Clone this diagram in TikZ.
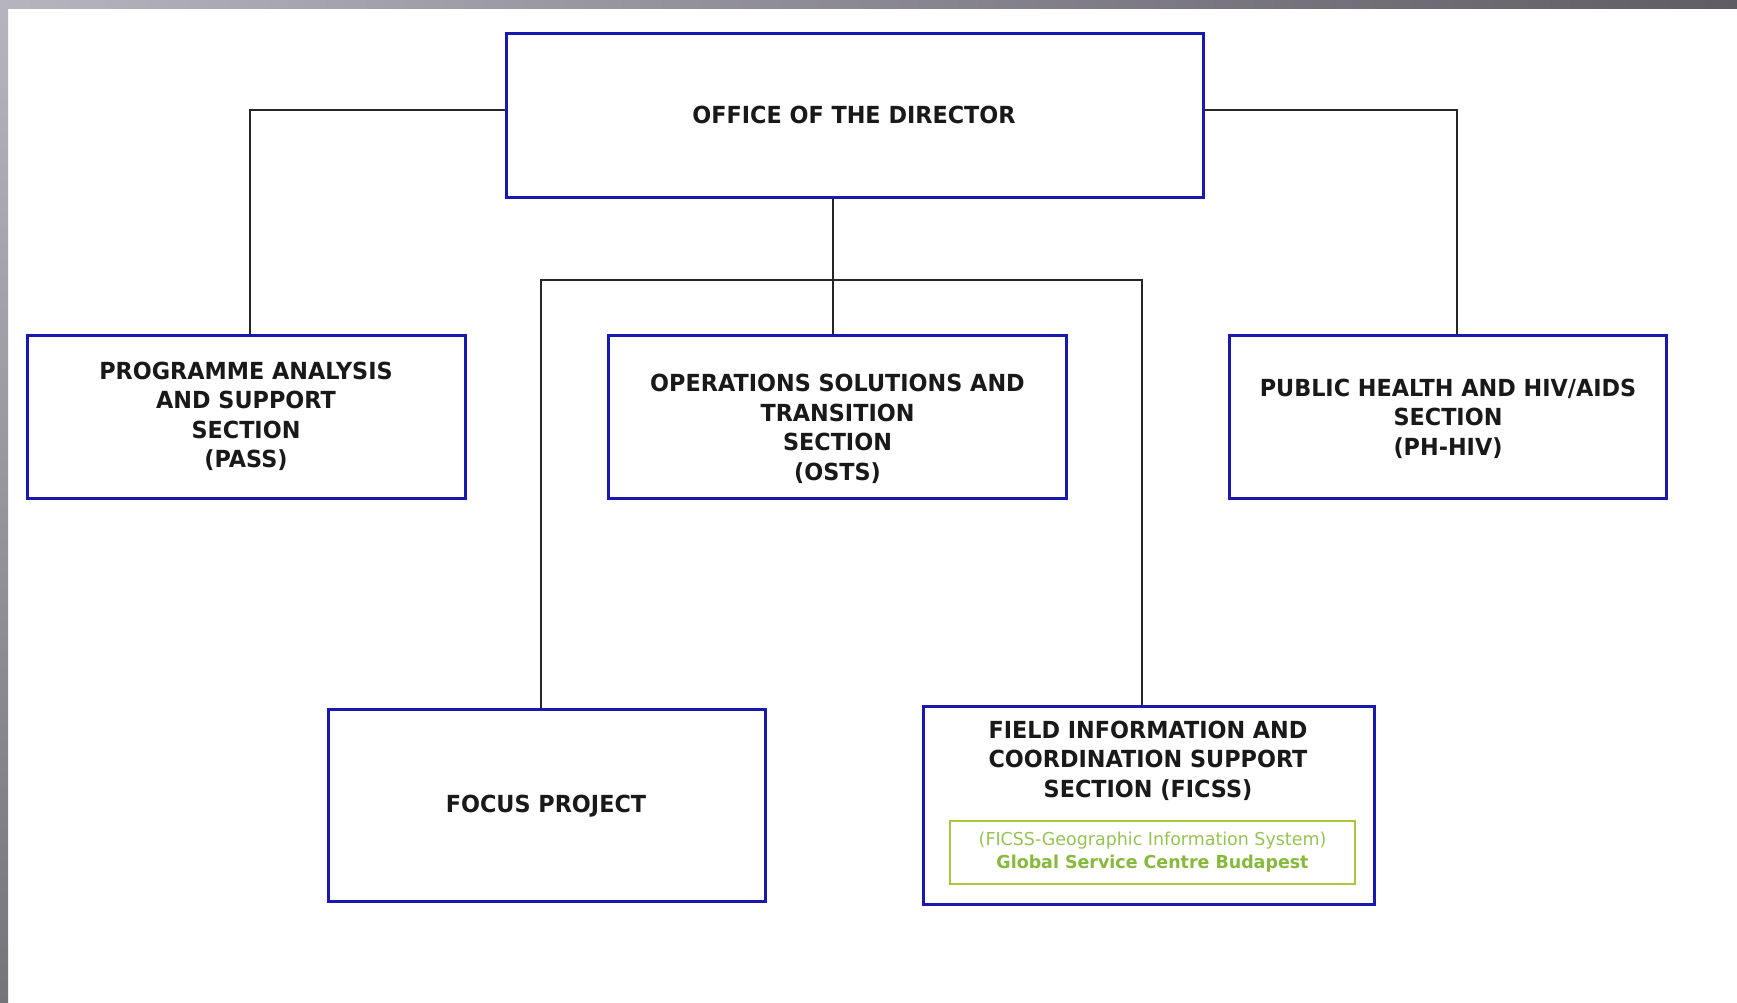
\documentclass[tikz,border=0pt]{standalone}
\usepackage{fontspec}
\setmainfont{DejaVu Sans}[FakeStretch=0.95]
\newfontfamily\gisfont{DejaVu Sans}[FakeStretch=0.98]
\definecolor{boxblue}{RGB}{25,25,175}
\definecolor{gborder}{RGB}{165,200,60}
\definecolor{gtext}{RGB}{150,195,85}
\definecolor{gbold}{RGB}{135,185,60}
\definecolor{bandlight}{RGB}{182,180,190}
\definecolor{banddark}{RGB}{95,92,100}
\definecolor{bandlow}{RGB}{118,116,123}
\begin{document}
\begin{tikzpicture}[x=1pt,y=-1pt,
  orgbox/.style={draw=boxblue, line width=3pt, fill=white, inner sep=0pt},
  lbl/.style={font=\bfseries\fontsize{23.5}{29.5}\selectfont, align=center, text=black!90, inner sep=0pt},
  gisbox/.style={draw=gborder, line width=2.4pt, fill=white, inner sep=0pt, align=center, font=\gisfont\fontsize{17.8}{23}\selectfont},
  conn/.style={line width=1.6pt, black!85}]
\useasboundingbox (0,0) rectangle (1737,1002);
\fill[white] (0,0) rectangle (1737,1002);
\shade[left color=bandlight, right color=banddark] (0,0) rectangle (1737,8);
\shade[top color=bandlight, bottom color=bandlow] (0,0) rectangle (8,1002);

% boxes
\node[orgbox, minimum width=697, minimum height=164] (dir) at (854.5,115) {};
\node[orgbox, minimum width=438, minimum height=163] (pass) at (246,416.5) {};
\node[orgbox, minimum width=458, minimum height=163] (osts) at (837,416.5) {};
\node[orgbox, minimum width=437, minimum height=163] (phhiv) at (1447.5,416.5) {};
\node[orgbox, minimum width=437, minimum height=192] (focus) at (546.5,805) {};
\node[orgbox, minimum width=451, minimum height=198] (ficss) at (1148.5,805) {};
\node[gisbox, minimum width=405, minimum height=63] (gis) at (1152.5,852.5)
  {\textcolor{gtext}{(FICSS-Geographic Information System)}\\
   \textcolor{gbold}{\bfseries Global Service Centre Budapest}};

% texts
\node[lbl] (dir-t) at (854,115) {OFFICE OF THE DIRECTOR};
\node[lbl] (pass-t) at (246,416.5) {PROGRAMME ANALYSIS\\AND SUPPORT\\SECTION\\(PASS)};
\node[lbl] (osts-t) at (837.5,429) {OPERATIONS SOLUTIONS AND\\TRANSITION\\SECTION\\(OSTS)};
\node[lbl] (phhiv-t) at (1448,418.5) {PUBLIC HEALTH AND HIV/AIDS\\SECTION\\(PH-HIV)};
\node[lbl] (focus-t) at (546,806.5) {FOCUS PROJECT};
\node[lbl] (ficss-t) at (1148,760.5) {FIELD INFORMATION AND\\COORDINATION SUPPORT\\SECTION (FICSS)};

% junction coordinates
\coordinate (jpass) at (250,110);
\coordinate (jph) at (1457,110);
\coordinate (jmid) at (833,280);
\coordinate (jl) at (541,280);
\coordinate (jr) at (1142,280);

% connectors
\draw[conn] (dir.west |- jpass) -| (pass.north -| jpass);
\draw[conn] (dir.east |- jph) -| (phhiv.north -| jph);
\draw[conn] (dir.south -| jmid) -- (osts.north -| jmid);
\draw[conn] (focus.north -| jl) |- (jr) -- (ficss.north -| jr);
\end{tikzpicture}
\end{document}
